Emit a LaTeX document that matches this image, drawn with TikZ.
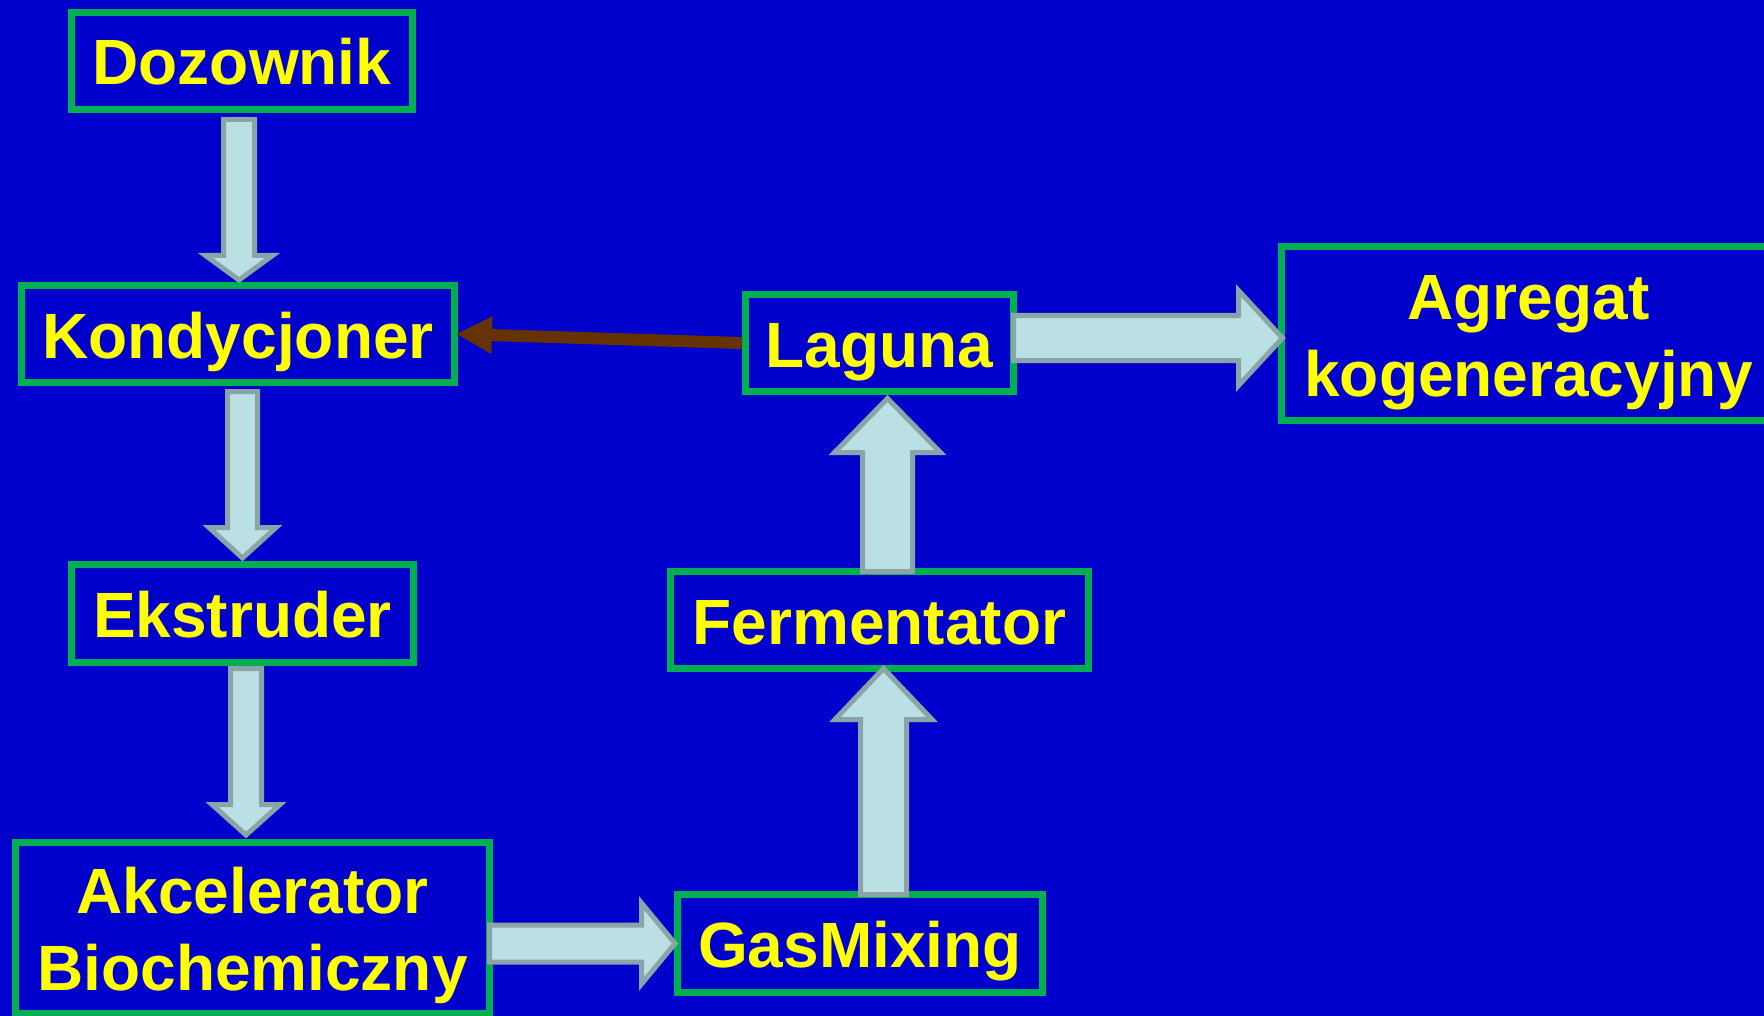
\documentclass[tikz,border=0pt]{standalone}
\usepackage{fontspec}
\setmainfont{Liberation Sans}
\usetikzlibrary{calc,arrows.meta}

\definecolor{bgblue}{HTML}{0000CC}
\definecolor{boxgreen}{HTML}{00B050}
\definecolor{labelyellow}{HTML}{FFFF00}
\definecolor{flowfill}{HTML}{BBE0E3}
\definecolor{flowedge}{HTML}{8BA4A8}
\definecolor{returnbrown}{HTML}{663300}

% two centred lines, baseline of the box on the last line
\newcommand\twoline[2]{\vbox{\baselineskip=77pt\halign{\hfil##\hfil\cr#1\cr#2\cr}}}

% block arrow: start, tip, half shaft width, half head width, head length
\newcommand\flowarrow[5]{%
  \path (#1) coordinate (fa-a) (#2) coordinate (fa-b)
        ($(fa-b)!#5!(fa-a)$) coordinate (fa-c);
  \draw[flow] ($(fa-a)!#3!90:(fa-b)$) -- ($(fa-c)!#3!90:(fa-b)$)
    -- ($(fa-c)!#4!90:(fa-b)$) -- (fa-b) -- ($(fa-c)!#4!-90:(fa-b)$)
    -- ($(fa-c)!#3!-90:(fa-b)$) -- ($(fa-a)!#3!-90:(fa-b)$) -- cycle;}

\begin{document}
\begin{tikzpicture}[x=1pt,y=-1pt,
  stage/.style={draw=boxgreen, line width=7pt, fill=bgblue, inner sep=0pt,
    text=labelyellow, font=\fontsize{64}{77}\selectfont\bfseries,
    text height=48pt, text depth=0pt},
  tallstage/.style={stage, text height=125pt, text depth=0pt},
  flow/.style={fill=flowfill, draw=flowedge, line width=5pt, line join=miter},
  feedback/.style={draw=returnbrown, line width=12pt,
    -{Triangle[length=36pt,width=35pt]}}]

\useasboundingbox (0,0) rectangle (1764,1016);
\clip (0,0) rectangle (1764,1016);
\fill[bgblue] (0,0) rectangle (1764,1016);

% process stages
\node[stage, minimum width=341pt, minimum height=97pt] (dozownik) at (242,61) {Dozownik};
\node[stage, minimum width=433pt, minimum height=97pt] (kondycjoner) at (238,334) {Kondycjoner};
\node[stage, minimum width=342pt, minimum height=98pt] (ekstruder) at (242.5,613.5) {Ekstruder};
\node[tallstage, minimum width=474pt, minimum height=171pt] (akcelerator) at (252.5,928) {\twoline{Akcelerator}{Biochemiczny}};
\node[stage, minimum width=365pt, minimum height=98pt] (gasmixing) at (860,943.5) {GasMixing};
\node[stage, minimum width=418pt, minimum height=97pt] (fermentator) at (879.5,620) {Fermentator};
\node[stage, minimum width=268pt, minimum height=97pt] (laguna) at (879.5,343) {Laguna};
\node[tallstage, minimum width=494pt, minimum height=174pt] (agregat) at (1528.5,333.5) {\twoline{Agregat}{kogeneracyjny}};

% main flow
\flowarrow{$(dozownik.south)+(-3,6.5)$}{$(dozownik.south |- kondycjoner.north)+(-3,-2)$}{15.5pt}{33.5pt}{24.5pt}
\flowarrow{$(kondycjoner.south)+(4.5,5.5)$}{$(kondycjoner.south |- ekstruder.north)+(4.5,-3)$}{15pt}{33.5pt}{30.5pt}
\flowarrow{$(ekstruder.south)+(3.5,2.5)$}{$(ekstruder.south |- akcelerator.north)+(3.5,-4)$}{15.5pt}{34pt}{30.5pt}
\flowarrow{$(akcelerator.east |- gasmixing.west)+(-3.5,0)$}{$(gasmixing.west)+(1,0)$}{18.5pt}{40.5pt}{33.5pt}
\flowarrow{$(gasmixing.north)+(23.5,3.5)$}{$(gasmixing.north |- fermentator.south)+(23.5,-3.5)$}{23pt}{48.5pt}{51pt}
\flowarrow{$(fermentator.north)+(8,3.5)$}{$(fermentator.north |- laguna.south)+(8,3.5)$}{25pt}{53pt}{54pt}
\flowarrow{$(laguna.east)+(-3.5,-5)$}{$(laguna.east -| agregat.west)+(4.5,-5)$}{22.5pt}{47.5pt}{44pt}

% return line
\draw[feedback] (laguna.west) -- ($(kondycjoner.east)+(-2,0)$);
\end{tikzpicture}
\end{document}
